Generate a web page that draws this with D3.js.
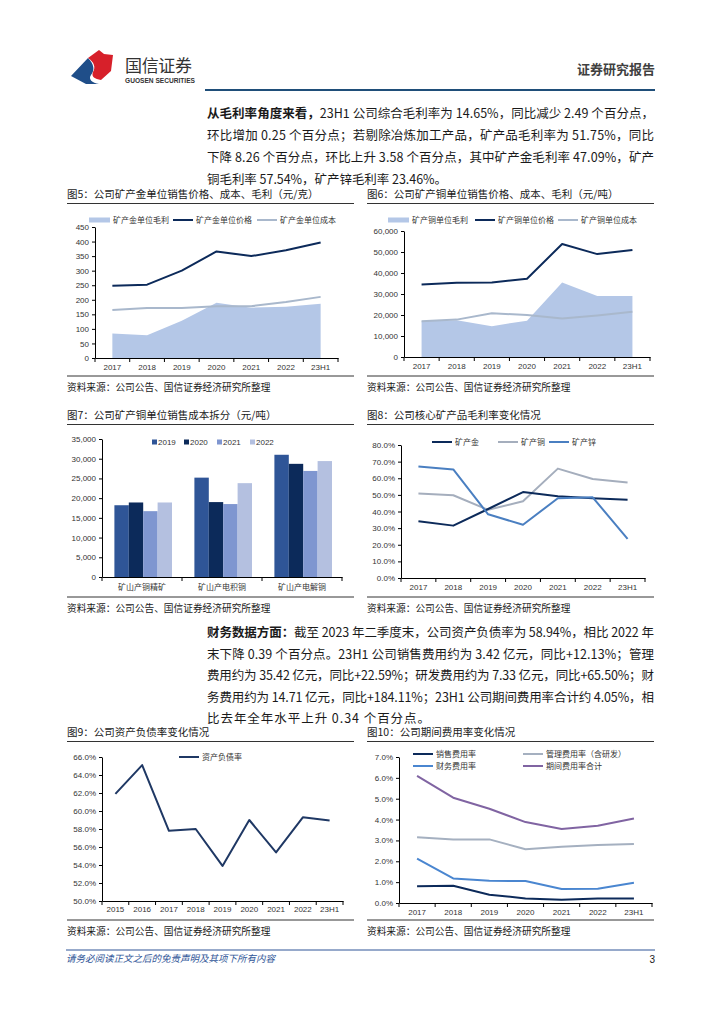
<!DOCTYPE html>
<html><head><meta charset="utf-8">
<script src="https://cdn.jsdelivr.net/npm/d3@7"></script>
<style>
body{margin:0;background:#fff}
svg{display:block}
text{font-family:"Liberation Sans","Noto Sans CJK SC",sans-serif}
</style>
</head><body><svg id="page" width="724" height="1024"></svg>
<script>
// ---------------- DATA ----------------
const years7 = ["2017","2018","2019","2020","2021","2022","23H1"];
const goldMargin = [84,78,128,190,173,176,186];
const goldPrice  = [248,252,300,366,350,370,397];
const goldCost   = [165,172,172,178,178,192,210];
const ticks5 = [0,50,100,150,200,250,300,350,400,450];

const cuMargin = [17000,17500,14700,17300,35500,29000,29000];
const cuPrice  = [34500,35300,35500,37300,53800,49000,51000];
const cuCost   = [17000,17800,20800,20000,18300,19800,21500];
const ticks6 = [0,10000,20000,30000,40000,50000,60000];

const costCats  = ["矿山产铜精矿","矿山产电积铜","矿山产电解铜"];
const costYears = ["2019","2020","2021","2022"];
const cost2019 = [18200,25200,31000];
const cost2020 = [18900,19000,28700];
const cost2021 = [16700,18500,26900];
const cost2022 = [18900,23800,29400];
const ticks7 = [0,5000,10000,15000,20000,25000,30000,35000];

const gmGold = [34.2,31.5,41.5,51.7,49.2,48.0,47.1];
const gmCu   = [50.8,49.8,41.0,46.2,65.8,59.5,57.5];
const gmZn   = [67.0,65.3,38.3,32.0,48.0,48.5,23.5];
const ticks8 = [0,10,20,30,40,50,60,70,80];

const years9 = ["2015","2016","2017","2018","2019","2020","2021","2022","23H1"];
const debtRatio = [61.9,65.1,57.8,58.0,53.9,59.0,55.4,59.3,58.94];
const ticks9 = [50,52,54,56,58,60,62,64,66];

const sellRate  = [0.80,0.83,0.40,0.22,0.15,0.22,0.22];
const mgmtRate  = [3.15,3.05,3.05,2.58,2.70,2.78,2.83];
const finRate   = [2.13,1.18,1.07,1.05,0.67,0.68,0.97];
const totalRate = [6.10,5.05,4.52,3.88,3.55,3.70,4.05];
const ticks10 = [0,1,2,3,4,5,6,7];

// ---------------- PAGE ----------------
const svg = d3.select("#page");
svg.append("rect").attr("width",724).attr("height",1024).attr("fill","#fff");
const CJK = '"Noto Sans CJK SC",sans-serif';
const LAT = '"Liberation Sans","Noto Sans CJK SC",sans-serif';

// header
svg.append("path").attr("d","M71,76 L88,58 C94,64 95,70 91,75 C88,79 92,83 99,84 L86,84 Z").attr("fill","#1F4E89");
svg.append("path").attr("d","M88,58 L99,50 L104,54 L113,55 L111,71 L101,80 C95,79 91,77 93,72 C96,67 94,62 88,58 Z").attr("fill","#D7202A");
svg.append("text").attr("x",125).attr("y",72).text("国信证券").style("font-family",CJK).style("font-size","17px").attr("fill","#333").attr("textLength",67);
svg.append("text").attr("x",125).attr("y",83).text("GUOSEN SECURITIES").style("font-size","6.6px").style("font-weight","bold").attr("fill","#333").attr("textLength",70);
svg.append("text").attr("x",655).attr("y",74).attr("text-anchor","end").text("证券研究报告").style("font-family",CJK).style("font-size","13px").style("font-weight","bold").attr("fill","#404040");
svg.append("line").attr("x1",205).attr("x2",655).attr("y1",90).attr("y2",90).attr("stroke","#1F4E79").attr("stroke-width",2);

// paragraphs
function para(lines, y0, lh) {
  lines.forEach((ln, i) => {
    const t = svg.append("text").attr("x",207).attr("y",y0+i*lh)
      .style("font-family",CJK).style("font-size","12.5px").attr("fill","#1a1a1a")
      .attr("textLength",ln.w).attr("lengthAdjust","spacing");
    if (ln.b) t.append("tspan").style("font-weight","bold").text(ln.b);
    t.append("tspan").text(ln.t);
  });
}
para([
  {b:"从毛利率角度来看，", t:"23H1 公司综合毛利率为 14.65%，同比减少 2.49 个百分点，", w:447},
  {t:"环比增加 0.25 个百分点；若剔除冶炼加工产品，矿产品毛利率为 51.75%，同比", w:447},
  {t:"下降 8.26 个百分点，环比上升 3.58 个百分点，其中矿产金毛利率 47.09%，矿产", w:447},
  {t:"铜毛利率 57.54%，矿产锌毛利率 23.46%。", w:240}
], 117.5, 22);
para([
  {b:"财务数据方面：", t:"截至 2023 年二季度末，公司资产负债率为 58.94%，相比 2022 年", w:447},
  {t:"末下降 0.39 个百分点。23H1 公司销售费用约为 3.42 亿元，同比+12.13%；管理", w:447},
  {t:"费用约为 35.42 亿元，同比+22.59%；研发费用约为 7.33 亿元，同比+65.50%；财", w:447},
  {t:"务费用约为 14.71 亿元，同比+184.11%；23H1 公司期间费用率合计约 4.05%，相", w:447},
  {t:"比去年全年水平上升 0.34 个百分点。", w:223}
], 637, 21.5);

// titles & captions
function titleCap(x, ty, cy, title) {
  svg.append("text").attr("x",x).attr("y",ty).text(title).style("font-family",CJK).style("font-size","10.5px").attr("fill","#1a1a1a");
  svg.append("line").attr("x1",x).attr("x2",x+287).attr("y1",ty+5.5).attr("y2",ty+5.5).attr("stroke","#333").attr("stroke-width",1);
  svg.append("line").attr("x1",x).attr("x2",x+287).attr("y1",cy).attr("y2",cy).attr("stroke","#333").attr("stroke-width",1);
  svg.append("text").attr("x",x).attr("y",cy+15).text("资料来源：公司公告、国信证券经济研究所整理").style("font-family",CJK).style("font-size","9.7px").attr("fill","#1a1a1a");
}
titleCap(67, 198, 376, "图5：公司矿产金单位销售价格、成本、毛利（元/克）");
titleCap(367, 198, 376, "图6：公司矿产铜单位销售价格、成本、毛利（元/吨）");
titleCap(67, 419, 597, "图7：公司矿产铜单位销售成本拆分（元/吨）");
titleCap(367, 419, 597, "图8：公司核心矿产品毛利率变化情况");
titleCap(67, 736, 920, "图9：公司资产负债率变化情况");
titleCap(367, 736, 920, "图10：公司期间费用率变化情况");

// footer
svg.append("line").attr("x1",66).attr("x2",655).attr("y1",950).attr("y2",950).attr("stroke","#2F5597").attr("stroke-width",1);
svg.append("text").attr("x",66).attr("y",962).text("请务必阅读正文之后的免责声明及其项下所有内容").style("font-family",CJK).style("font-size","9.5px").style("font-style","italic").attr("fill","#2F5597");
svg.append("text").attr("x",655).attr("y",963).attr("text-anchor","end").text("3").style("font-size","10px").attr("fill","#1a1a1a");

// ---------------- CHART HELPERS ----------------
function axes(g, x, y, yTicks, fmt, padX, labelFont) {
  const ya = g.append("g").attr("transform",`translate(${x.range()[0]},0)`)
    .call(d3.axisLeft(y).tickValues(yTicks).tickFormat(fmt).tickSize(3).tickSizeOuter(0).tickPadding(3));
  const xa = g.append("g").attr("transform",`translate(0,${y.range()[0]})`)
    .call(d3.axisBottom(x).tickSize(0).tickSizeOuter(0).tickPadding(padX));
  const bounds = x.domain().map(d => x(d)).concat([x.range()[1]]);
  xa.selectAll("line.bt").data(bounds).join("line").attr("class","bt")
    .attr("x1",d=>d).attr("x2",d=>d).attr("y1",0).attr("y2",4).attr("stroke","#000");
  [ya, xa].forEach(a => {
    a.select(".domain").attr("stroke","#000");
    a.selectAll(".tick line").attr("stroke","#000");
    a.selectAll("text").attr("fill","#333").style("font-size","8px").style("font-family",LAT);
  });
  if (labelFont) xa.selectAll("text").style("font-family",labelFont);
}
function legend(g, items) {
  items.forEach(it => {
    if (it.type === "line") {
      g.append("line").attr("x1",it.x).attr("x2",it.x+20).attr("y1",it.y).attr("y2",it.y).attr("stroke",it.c).attr("stroke-width",2);
      g.append("text").attr("x",it.x+23).attr("y",it.y+3).text(it.l).style("font-family",CJK).style("font-size","8px").attr("fill","#333");
    } else if (it.type === "area") {
      g.append("rect").attr("x",it.x).attr("y",it.y-2.5).attr("width",21).attr("height",5).attr("fill",it.c);
      g.append("text").attr("x",it.x+24).attr("y",it.y+3).text(it.l).style("font-family",CJK).style("font-size","8px").attr("fill","#333");
    } else {
      g.append("rect").attr("x",it.x).attr("y",it.y-2.5).attr("width",5).attr("height",5).attr("fill",it.c);
      g.append("text").attr("x",it.x+6).attr("y",it.y+3).text(it.l).style("font-size","8px").attr("fill","#333");
    }
  });
}
function drawLine(g, x, y, cats, vals, color, w) {
  g.append("path").datum(vals)
    .attr("d", d3.line().x((v,i)=>x(cats[i])+x.bandwidth()/2).y(v=>y(v)))
    .attr("fill","none").attr("stroke",color).attr("stroke-width",w||2).attr("stroke-linejoin","round");
}
function drawArea(g, x, y, cats, vals, color) {
  g.append("path").datum(vals)
    .attr("d", d3.area().x((v,i)=>x(cats[i])+x.bandwidth()/2).y0(y(0)).y1(v=>y(v)))
    .attr("fill",color);
}
const pct1 = d => d.toFixed(1) + "%";
const comma = d3.format(",");

// ---------------- FIG 5 ----------------
{
  const g = svg.append("g");
  const x = d3.scaleBand().domain(years7).range([95,338]);
  const y = d3.scaleLinear().domain([0,450]).range([358,227]);
  drawArea(g,x,y,years7,goldMargin,"#B4C7E7");
  drawLine(g,x,y,years7,goldCost,"#A9B8CC",2);
  drawLine(g,x,y,years7,goldPrice,"#0C2A5A",2);
  axes(g,x,y,ticks5,d=>d,6);
  legend(g,[
    {type:"area",x:89,y:220,c:"#B4C7E7",l:"矿产金单位毛利"},
    {type:"line",x:173,y:220,c:"#0C2A5A",l:"矿产金单位价格"},
    {type:"line",x:257,y:220,c:"#A9B8CC",l:"矿产金单位成本"}
  ]);
}
// ---------------- FIG 6 ----------------
{
  const g = svg.append("g");
  const x = d3.scaleBand().domain(years7).range([404,650]);
  const y = d3.scaleLinear().domain([0,60000]).range([357,231]);
  drawArea(g,x,y,years7,cuMargin,"#B4C7E7");
  drawLine(g,x,y,years7,cuCost,"#A9B8CC",2);
  drawLine(g,x,y,years7,cuPrice,"#0C2A5A",2);
  axes(g,x,y,ticks6,comma,6);
  legend(g,[
    {type:"area",x:388,y:220,c:"#B4C7E7",l:"矿产铜单位毛利"},
    {type:"line",x:475,y:220,c:"#0C2A5A",l:"矿产铜单位价格"},
    {type:"line",x:558,y:220,c:"#A9B8CC",l:"矿产铜单位成本"}
  ]);
}
// ---------------- FIG 7 ----------------
{
  const g = svg.append("g");
  const x = d3.scaleBand().domain(costCats).range([102,342]);
  const y = d3.scaleLinear().domain([0,35000]).range([577,439]);
  const xs = d3.scaleBand().domain(costYears).range([x.bandwidth()*0.155, x.bandwidth()*0.875]);
  const series = [cost2019,cost2020,cost2021,cost2022];
  const colors = ["#2F5597","#0C2A5A","#7F96D0","#B4C0E0"];
  series.forEach((vals, si) => {
    g.selectAll(null).data(vals).join("rect")
      .attr("x",(v,i)=>x(costCats[i])+xs(costYears[si]))
      .attr("y",v=>y(v)).attr("width",xs.bandwidth()).attr("height",v=>y(0)-y(v))
      .attr("fill",colors[si]);
  });
  axes(g,x,y,ticks7,comma,7,CJK);
  legend(g, costYears.map((yr,i)=>({type:"sq",x:[152,184,217,250][i],y:442,c:colors[i],l:yr})));
}
// ---------------- FIG 8 ----------------
{
  const g = svg.append("g");
  const x = d3.scaleBand().domain(years7).range([401,645]);
  const y = d3.scaleLinear().domain([0,80]).range([578,445]);
  drawLine(g,x,y,years7,gmCu,"#A5AEBD",2);
  drawLine(g,x,y,years7,gmGold,"#0C2A5A",2);
  drawLine(g,x,y,years7,gmZn,"#4A7FC1",2);
  axes(g,x,y,ticks8,pct1,6);
  legend(g,[
    {type:"line",x:432,y:442,c:"#0C2A5A",l:"矿产金"},
    {type:"line",x:498,y:442,c:"#A5AEBD",l:"矿产铜"},
    {type:"line",x:549,y:442,c:"#4A7FC1",l:"矿产锌"}
  ]);
}
// ---------------- FIG 9 ----------------
{
  const g = svg.append("g");
  const x = d3.scaleBand().domain(years9).range([102,343]);
  const y = d3.scaleLinear().domain([50,66]).range([901,757]);
  drawLine(g,x,y,years9,debtRatio,"#1F3864",2);
  axes(g,x,y,ticks9,pct1,5);
  legend(g,[{type:"line",x:179,y:757,c:"#1F3864",l:"资产负债率"}]);
}
// ---------------- FIG 10 ----------------
{
  const g = svg.append("g");
  const x = d3.scaleBand().domain(years7).range([399,652]);
  const y = d3.scaleLinear().domain([0,7]).range([903,757]);
  drawLine(g,x,y,years7,totalRate,"#8064A2",2);
  drawLine(g,x,y,years7,mgmtRate,"#A5B0C0",2);
  drawLine(g,x,y,years7,finRate,"#4A86D0",2);
  drawLine(g,x,y,years7,sellRate,"#0C2A5A",2);
  axes(g,x,y,ticks10,pct1,6);
  legend(g,[
    {type:"line",x:413,y:754,c:"#0C2A5A",l:"销售费用率"},
    {type:"line",x:523,y:754,c:"#A5B0C0",l:"管理费用率（含研发）"},
    {type:"line",x:413,y:766,c:"#4A86D0",l:"财务费用率"},
    {type:"line",x:523,y:766,c:"#8064A2",l:"期间费用率合计"}
  ]);
}
</script></body></html>
